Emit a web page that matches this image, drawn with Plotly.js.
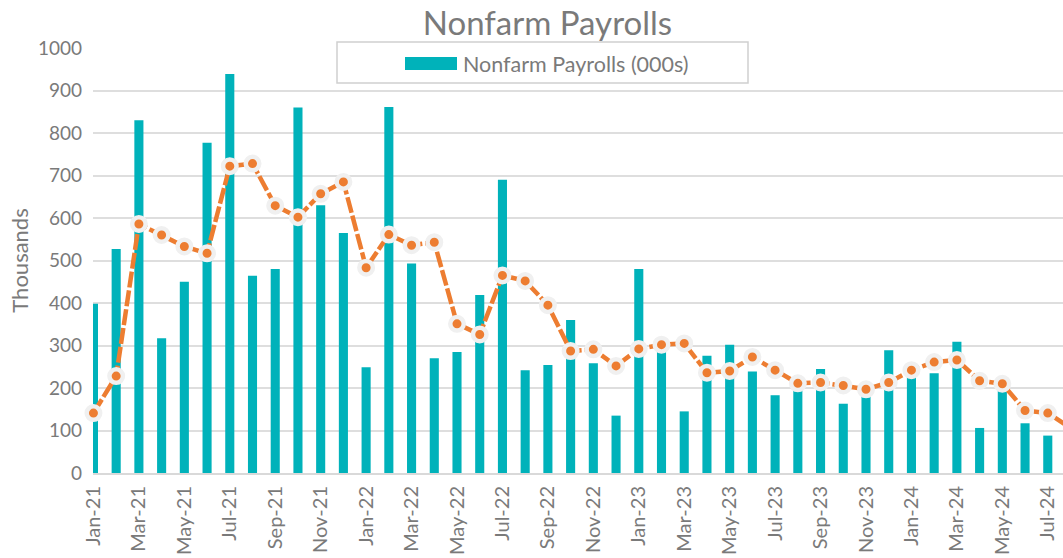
<!DOCTYPE html>
<html>
<head>
<meta charset="utf-8">
<script src="https://cdn.plot.ly/plotly-3.0.1.min.js"></script>
<style>
html,body{margin:0;padding:0;background:#fff;}
#chart{width:1063px;height:558px;}
</style>
</head>
<body>
<div id="chart"></div>
<script>
// Months (bars run Jan-21 .. Jul-24; the moving-average line continues to Aug-24)
var months = ["Jan-21","Feb-21","Mar-21","Apr-21","May-21","Jun-21","Jul-21","Aug-21","Sep-21","Oct-21","Nov-21","Dec-21",
              "Jan-22","Feb-22","Mar-22","Apr-22","May-22","Jun-22","Jul-22","Aug-22","Sep-22","Oct-22","Nov-22","Dec-22",
              "Jan-23","Feb-23","Mar-23","Apr-23","May-23","Jun-23","Jul-23","Aug-23","Sep-23","Oct-23","Nov-23","Dec-23",
              "Jan-24","Feb-24","Mar-24","Apr-24","May-24","Jun-24","Jul-24"];
var lineMonths = months.concat(["Aug-24"]);

// Monthly nonfarm payroll change (thousands)
var payrolls = [398,527,830,317,450,777,939,464,480,860,630,565,
                249,861,493,270,285,419,690,242,254,360,258,135,
                480,290,145,276,302,239,183,211,245,163,185,289,
                256,235,309,106,218,117,88];

// 3-month average (orange dashed line)
var avg3 = [141,228,586,560,533,517,722,728,629,602,657,685,
            483,561,536,543,351,326,465,452,395,287,291,252,
            292,302,305,236,240,273,242,211,213,206,197,213,
            242,261,266,217,210,147,141,106];

var tickLabels = months.filter(function(m, i){ return i % 2 === 0; });
var yTicks = [0,100,200,300,400,500,600,700,800,900,1000];

var FONT = "Lato, 'Open Sans', sans-serif";
var TEAL = "#00B2BA";
var ORANGE = "#ED7D31";
var GREY = "#7a7a7a";

var traces = [
  {
    type: "bar", x: months, y: payrolls, name: "Nonfarm Payrolls (000s)",
    marker: {color: TEAL}, width: 0.4, showlegend: false, hoverinfo: "x+y"
  },
  {
    type: "scatter", mode: "lines+markers", x: lineMonths, y: avg3, name: "3-month average",
    line: {color: ORANGE, width: 4.5, dash: "16px,3px"},
    marker: {color: ORANGE, size: 13.5, line: {color: "#F0F0F0", width: 4.5}},
    cliponaxis: false, showlegend: false
  }
];

// plot area: left 93px, right 1063px, top 48px, bottom 473px
function px2x(p){ return (p - 93) / 970; }
function py2y(p){ return (473 - p) / 425; }

var layout = {
  width: 1063, height: 558,
  margin: {l: 93, r: 0, t: 48, b: 85},
  paper_bgcolor: "#fff", plot_bgcolor: "#fff",
  font: {family: FONT, color: GREY},
  showlegend: false,
  title: {
    text: "Nonfarm Payrolls",
    font: {family: FONT, size: 33, color: GREY},
    x: 0.515, xanchor: "center", xref: "container",
    y: 1 - 23/558, yanchor: "middle", yref: "container"
  },
  xaxis: {
    type: "category",
    categoryorder: "array", categoryarray: lineMonths,
    range: [-0.02, 42.67],
    tickmode: "array", tickvals: tickLabels, ticktext: tickLabels,
    tickangle: -90,
    tickfont: {family: FONT, size: 20, color: GREY},
    showgrid: false, zeroline: false,
    showline: true, linecolor: "#D9D9D9", linewidth: 2,
    ticks: "", ticklabelstandoff: 3,
    automargin: false, fixedrange: true
  },
  yaxis: {
    range: [0, 1000],
    tickmode: "array", tickvals: yTicks,
    tickfont: {family: FONT, size: 19, color: GREY},
    showgrid: true, gridcolor: "#DEDEDE", gridwidth: 2,
    zeroline: false, showline: false, ticks: "", ticklabelstandoff: 10,
    title: {text: "Thousands", font: {family: FONT, size: 22, color: GREY}, standoff: 3},
    automargin: true, fixedrange: true
  },
  shapes: [
    {type: "rect", xref: "paper", yref: "paper", layer: "above",
     x0: px2x(337), x1: px2x(748), y0: py2y(83), y1: py2y(42),
     fillcolor: "#FFFFFF", line: {color: "#D0D0D0", width: 1.5}},
    {type: "rect", xref: "paper", yref: "paper", layer: "above",
     x0: px2x(405), x1: px2x(457), y0: py2y(70), y1: py2y(57),
     fillcolor: TEAL, line: {width: 0}}
  ],
  annotations: [
    {xref: "paper", yref: "paper", x: px2x(461), y: py2y(63.5),
     xanchor: "left", yanchor: "middle", showarrow: false,
     text: "Nonfarm Payrolls (000s)",
     font: {family: FONT, size: 21.5, color: GREY}}
  ]
};

Plotly.newPlot("chart", traces, layout, {displayModeBar: false, staticPlot: true});
</script>
</body>
</html>
